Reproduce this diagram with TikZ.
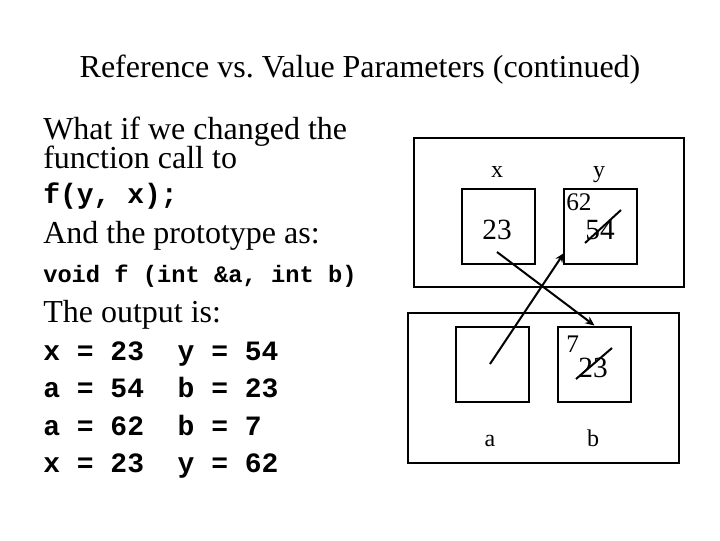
\documentclass[tikz,border=0pt]{standalone}
\usepackage{fontspec}
\setmainfont{Liberation Serif}
\setmonofont{Liberation Mono}
\usetikzlibrary{arrows.meta}
\frenchspacing
\tikzset{
  txt/.style={anchor=base west, inner sep=0pt, font=\fontsize{24}{28}\selectfont},
  code/.style={anchor=base west, inner sep=0pt, font=\fontsize{21}{24}\selectfont\ttfamily\bfseries},
  smallcode/.style={anchor=base west, inner sep=0pt, font=\fontsize{17.8}{20}\selectfont\ttfamily\bfseries},
  cell/.style={draw, line width=2.2pt, minimum width=54.75pt, minimum height=56.25pt, inner sep=0pt},
  frame/.style={draw, line width=2.2pt, inner sep=0pt},
  lab/.style={anchor=base, inner sep=0pt, font=\fontsize{18}{20}\selectfont},
  big/.style={anchor=base, inner sep=0pt, font=\fontsize{22}{24}\selectfont},
  conn/.style={line width=1.5pt, -{Stealth[length=7pt,width=6pt]}},
  strike/.style={line width=1.5pt}
}
\begin{document}
\begin{tikzpicture}[x=0.75pt,y=-0.75pt]
\useasboundingbox (0,0) rectangle (720,540);
% title
\node[anchor=base, inner sep=0pt, font=\fontsize{24}{28}\selectfont] (title) at (360,77) {Reference vs.\ Value Parameters (continued)};
% left text
\node[txt] (t1) at (43,139) {What if we changed the};
\node[txt] (t2) at (43,168) {function call to};
\node[code] (t3) at (43,203) {f(y, x);};
\node[txt] (t4) at (43,243) {And the prototype as:};
\node[smallcode] (t5) at (43,282) {void f (int \&a, int b)};
\node[txt] (t6) at (43,322) {The output is:};
\node[code] (o1) at (43,360) {x = 23\ \ y = 54};
\node[code] (o2) at (43,397) {a = 54\ \ b = 23};
\node[code] (o3) at (43,435) {a = 62\ \ b = 7};
\node[code] (o4) at (43,472) {x = 23\ \ y = 62};
% frames
\node[frame, minimum width=202.5pt, minimum height=111.75pt] (top) at (549,212.5) {};
\node[frame, minimum width=203.25pt, minimum height=112.5pt] (bot) at (543.5,388) {};
% cells
\node[cell] (bx) at (498.5,226.5) {};
\node[cell] (by) at (600.5,226.5) {};
\node[cell] (ba) at (492.5,364.5) {};
\node[cell] (bb) at (594.5,364.5) {};
% labels
\node[lab] (lx) at (497,177) {x};
\node[lab] (ly) at (599,177) {y};
\node[lab] (la) at (490,446) {a};
\node[lab] (lb) at (593,446) {b};
\node[big] (vx) at (497,239) {23};
\node[big] (vy) at (600,239) {54};
\node[lab, anchor=base west, font=\fontsize{19}{20}\selectfont] (vy2) at (566,210) {62};
\node[lab, anchor=base west, font=\fontsize{19}{20}\selectfont] (vb2) at (566,352) {7};
\node[big] (vb) at (593,377) {23};
% strikes
\draw[strike] (585,243) -- (621,210);
\draw[strike] (576,379) -- (612,348);
% connectors
\coordinate (s1) at (497,252);
\coordinate (s2) at (490,364);
\coordinate (e2) at (564,253);
\draw[conn] (s1) -- (bb.north);
\draw[conn] (s2) -- (e2);
\end{tikzpicture}
\end{document}
